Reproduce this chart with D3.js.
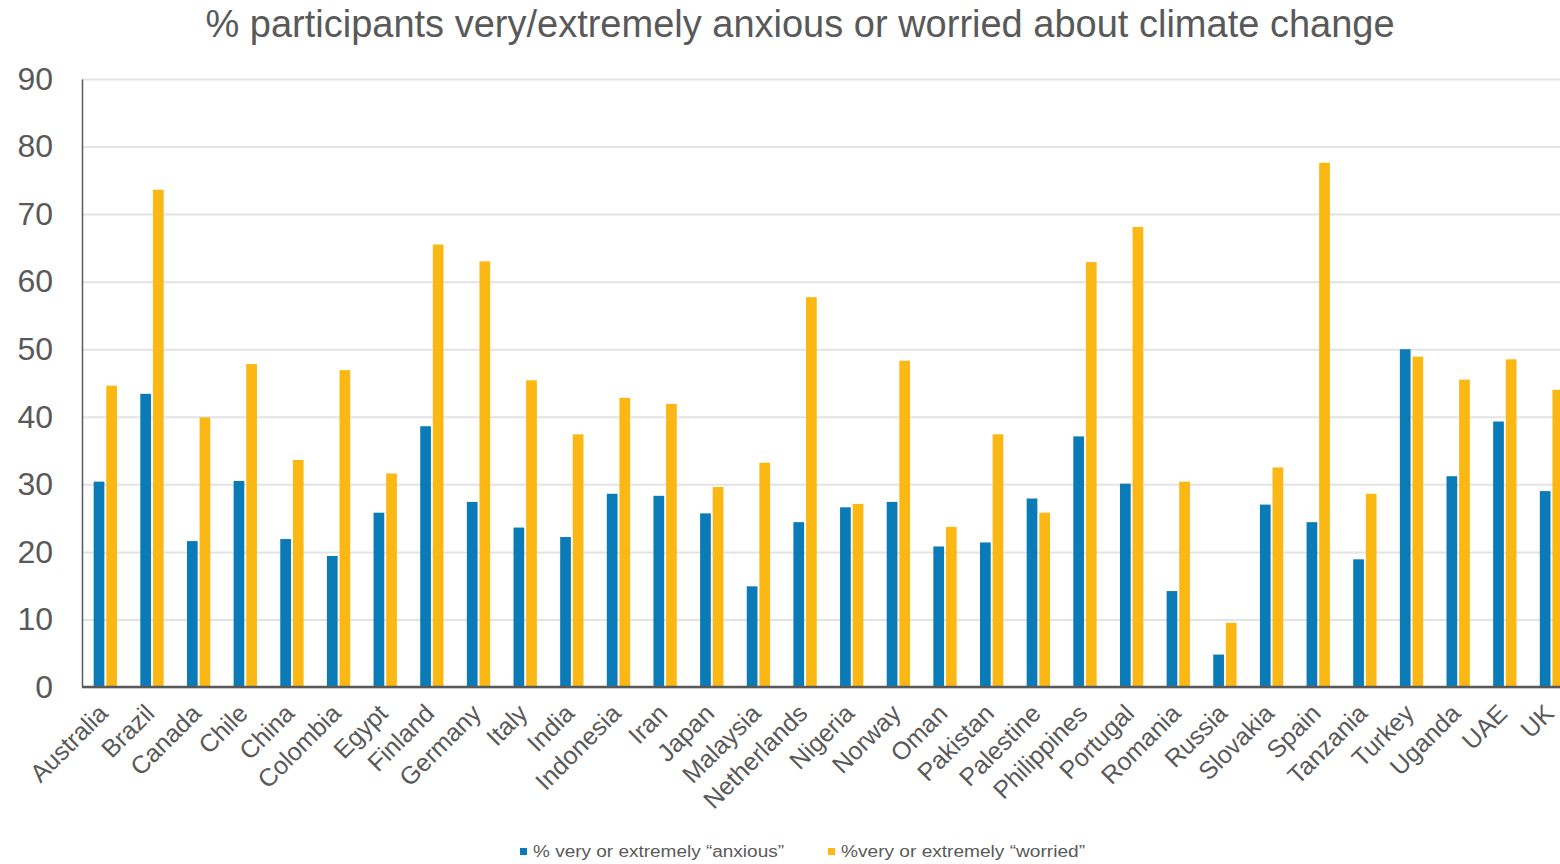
<!DOCTYPE html>
<html>
<head>
<meta charset="utf-8">
<script src="https://cdn.jsdelivr.net/npm/d3@7"></script>
<style>
  body { margin: 0; background: #fff; overflow: hidden; }
  text { font-family: "Liberation Sans", Arial, sans-serif; fill: #595959; }
</style>
</head>
<body>
<div id="chart"></div>
<script>
const countries = ["Australia", "Brazil", "Canada", "Chile", "China", "Colombia", "Egypt", "Finland",
  "Germany", "Italy", "India", "Indonesia", "Iran", "Japan", "Malaysia", "Netherlands", "Nigeria",
  "Norway", "Oman", "Pakistan", "Palestine", "Philippines", "Portugal", "Romania", "Russia",
  "Slovakia", "Spain", "Tanzania", "Turkey", "Uganda", "UAE", "UK"];
const anxious = [30.4, 43.4, 21.6, 30.5, 21.9, 19.4, 25.8, 38.6, 27.4, 23.6, 22.2, 28.6, 28.3, 25.7,
  14.9, 24.4, 26.6, 27.4, 20.8, 21.4, 27.9, 37.1, 30.1, 14.2, 4.8, 27.0, 24.4, 18.9, 50.0, 31.2, 39.3, 29.0];
const worried = [44.6, 73.6, 39.9, 47.8, 33.6, 46.9, 31.6, 65.5, 63.0, 45.4, 37.4, 42.8, 41.9, 29.6,
  33.2, 57.7, 27.1, 48.3, 23.7, 37.4, 25.8, 62.9, 68.1, 30.4, 9.5, 32.5, 77.6, 28.6, 48.9, 45.5, 48.5, 44.0];
const seriesKeys = ["anxious", "worried"];
const seriesLabels = ["% very or extremely \u201canxious\u201d", "%very or extremely \u201cworried\u201d"];
const colors = ["#0b7bb8", "#fbb713"];
const yTicks = [0, 10, 20, 30, 40, 50, 60, 70, 80, 90];

const data = countries.map((c, i) => ({country: c, anxious: anxious[i], worried: worried[i]}));

const W = 1560, H = 864;
const plotLeft = 82, plotBottom = 687, plotTop = 79;
const step = 46.65;
const plotRight = plotLeft + step * countries.length;

const svg = d3.select("#chart").append("svg")
    .attr("width", W)
    .attr("height", H);

svg.append("text")
    .attr("x", 800)
    .attr("y", 37)
    .attr("text-anchor", "middle")
    .style("font-size", "38px")
    .text("% participants very/extremely anxious or worried about climate change");

const x0 = d3.scaleBand().domain(countries).range([plotLeft, plotRight])
    .paddingInner(0.5).paddingOuter(0.25);
const x1 = d3.scaleBand().domain(seriesKeys).range([0, x0.bandwidth()]).paddingInner(0.15);
const y = d3.scaleLinear().domain([0, 90]).range([plotBottom, plotTop]);

// quadrillage
svg.append("g")
    .attr("transform", `translate(${plotLeft},0)`)
    .call(d3.axisLeft(y).tickValues(yTicks).tickSize(-(plotRight - plotLeft)).tickFormat(""))
    .call(g => g.select(".domain").remove())
    .selectAll(".tick line").style("stroke", "#e3e3e3").style("stroke-width", 2);

// barres
const groups = svg.append("g").selectAll("g").data(data).enter().append("g")
    .attr("transform", d => `translate(${x0(d.country)},0)`);
groups.selectAll("rect")
    .data(d => seriesKeys.map((k, i) => ({key: k, value: d[k], i: i})))
    .enter().append("rect")
    .attr("x", d => x1(d.key))
    .attr("y", d => y(d.value))
    .attr("width", x1.bandwidth())
    .attr("height", d => y(0) - y(d.value))
    .style("fill", d => colors[d.i]);

// axe Y
const yAxis = svg.append("g")
    .attr("transform", `translate(${plotLeft},0)`)
    .call(d3.axisLeft(y).tickValues(yTicks).tickSize(0).tickPadding(29));
yAxis.select(".domain").style("stroke", "#595959").style("stroke-width", 1.5);
yAxis.selectAll("text").style("font-size", "32px").style("fill", "#595959");

// axe X
svg.append("line")
    .attr("x1", plotLeft).attr("x2", plotRight)
    .attr("y1", plotBottom).attr("y2", plotBottom)
    .style("stroke", "#595959").style("stroke-width", 2.5);

svg.append("g").selectAll("text").data(countries).enter().append("text")
    .attr("transform", d => `translate(${x0(d) + x0.bandwidth() / 2 + 4},${plotBottom + 28}) rotate(-45)`)
    .attr("text-anchor", "end")
    .style("font-size", "25px")
    .text(d => d);

// légende
const legend = svg.append("g");
const legendX = [520, 828];
const legendLen = [251, 244];
seriesLabels.forEach((lab, i) => {
    legend.append("rect")
        .attr("x", legendX[i]).attr("y", 848)
        .attr("width", 7).attr("height", 7)
        .style("fill", colors[i]);
    legend.append("text")
        .attr("x", legendX[i] + 13).attr("y", 857)
        .attr("textLength", legendLen[i])
        .attr("lengthAdjust", "spacingAndGlyphs")
        .style("font-size", "16px")
        .text(lab);
});
</script>
</body>
</html>
